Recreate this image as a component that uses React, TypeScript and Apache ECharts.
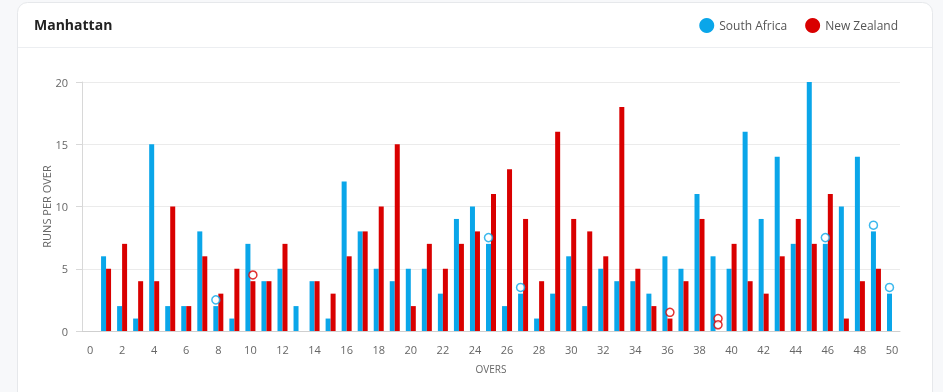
import React, { useEffect, useRef } from "react";
import * as echarts from "echarts";

const overs = Array.from({ length: 51 }, (_, i) => String(i));
const southAfricaRuns = [6, 2, 1, 15, 2, 2, 8, 2, 1, 7, 4, 5, 2, 4, 1, 12, 8, 5, 4, 5, 5, 3, 9, 10, 7, 2, 3, 1, 3, 6, 2, 5, 4, 4, 3, 6, 5, 11, 6, 5, 16, 9, 14, 7, 20, 7, 10, 14, 8, 3];
const newZealandRuns = [5, 7, 4, 4, 10, 2, 6, 3, 5, 4, 4, 7, 0, 4, 3, 6, 8, 10, 15, 2, 7, 5, 7, 8, 11, 13, 9, 4, 16, 9, 8, 6, 18, 5, 2, 1, 4, 9, 0, 7, 4, 3, 6, 9, 7, 11, 1, 4, 5, null];
const saWicketOvers = [8, 25, 27, 46, 49, 50];
const saWicketY = [2.5, 7.5, 3.5, 7.5, 8.5, 3.5];
const nzWicketOvers = [10, 36, 39, 39];
const nzWicketY = [4.5, 1.5, 1, 0.5];

const BLUE = "#0aa6e9";
const RED = "#d90000";
const FONT = "'Open Sans', 'Noto Sans', sans-serif";

export default function App() {
  const ref = useRef<HTMLDivElement>(null);
  useEffect(() => {
    const chart = echarts.init(ref.current!, null, { renderer: "svg" });
    const sa = [null, ...southAfricaRuns];
    const nz = [null, ...newZealandRuns];
    chart.setOption({
      animation: false,
      textStyle: { fontFamily: FONT },
      graphic: [
        { type: "rect", z: -10, shape: { x: 0, y: 0, width: 943, height: 392 }, style: { fill: "#f7f8fa" } },
        { type: "rect", z: -9, shape: { x: 17.5, y: 2.5, width: 915, height: 420, r: 10 }, style: { fill: "#ffffff", stroke: "#e6e8eb", lineWidth: 1 } },
        { type: "line", z: -8, shape: { x1: 18, y1: 47.5, x2: 932, y2: 47.5 }, style: { stroke: "#eceef1", lineWidth: 1 } },
      ],
      title: {
        text: "Manhattan",
        left: 29,
        top: 12,
        textStyle: { fontFamily: FONT, fontSize: 14, fontWeight: "bold", color: "#222" },
      },
      legend: {
        right: 40,
        top: 13,
        icon: "circle",
        itemWidth: 15,
        itemHeight: 15,
        itemGap: 18,
        data: ["South Africa", "New Zealand"],
        textStyle: { fontFamily: FONT, fontSize: 12, color: "#555" },
      },
      grid: { left: 82, right: 43, top: 82, bottom: 61 },
      xAxis: {
        type: "category",
        data: overs,
        boundaryGap: true,
        name: "OVERS",
        nameLocation: "middle",
        nameGap: 33,
        nameTextStyle: { fontSize: 10, color: "#666", fontFamily: FONT },
        axisLine: { lineStyle: { color: "#cfcfcf" } },
        axisTick: { alignWithLabel: true, interval: 1, length: 6, lineStyle: { color: "#cfcfcf" } },
        axisLabel: { interval: 1, margin: 13, fontSize: 11, color: "#666", fontFamily: FONT },
      },
      yAxis: {
        type: "value",
        min: 0,
        max: 20,
        interval: 5,
        name: "RUNS PER OVER",
        nameLocation: "middle",
        nameGap: 30,
        nameMoveOverlap: false,
        nameTextStyle: { fontSize: 11, color: "#666", fontFamily: FONT },
        axisLine: { show: true, lineStyle: { color: "#d8d8d8" } },
        axisTick: { show: true, length: 6, lineStyle: { color: "#d8d8d8" } },
        axisLabel: { margin: 14, fontSize: 11, color: "#666", fontFamily: FONT },
        splitLine: { lineStyle: { color: "#ebebeb" } },
      },
      series: [
        { name: "South Africa", type: "bar", data: sa, barWidth: 5, barGap: "0%", itemStyle: { color: BLUE } },
        { name: "New Zealand", type: "bar", data: nz, barWidth: 5, barGap: "0%", itemStyle: { color: RED } },
        {
          name: "South Africa",
          type: "scatter",
          data: saWicketOvers.map((o, i) => [String(o), saWicketY[i]]),
          symbol: "circle",
          symbolSize: 8,
          symbolOffset: [-2.5, 0],
          itemStyle: { color: "#fff", borderColor: BLUE, borderWidth: 1.5 },
          z: 5,
        },
        {
          name: "New Zealand",
          type: "scatter",
          data: nzWicketOvers.map((o, i) => [String(o), nzWicketY[i]]),
          symbol: "circle",
          symbolSize: 8,
          symbolOffset: [2.5, 0],
          itemStyle: { color: "#fff", borderColor: RED, borderWidth: 1.5 },
          z: 5,
        },
      ],
    });
    return () => chart.dispose();
  }, []);
  return <div ref={ref} style={{ position: "fixed", left: 0, top: 0, width: 943, height: 392 }} />;
}
